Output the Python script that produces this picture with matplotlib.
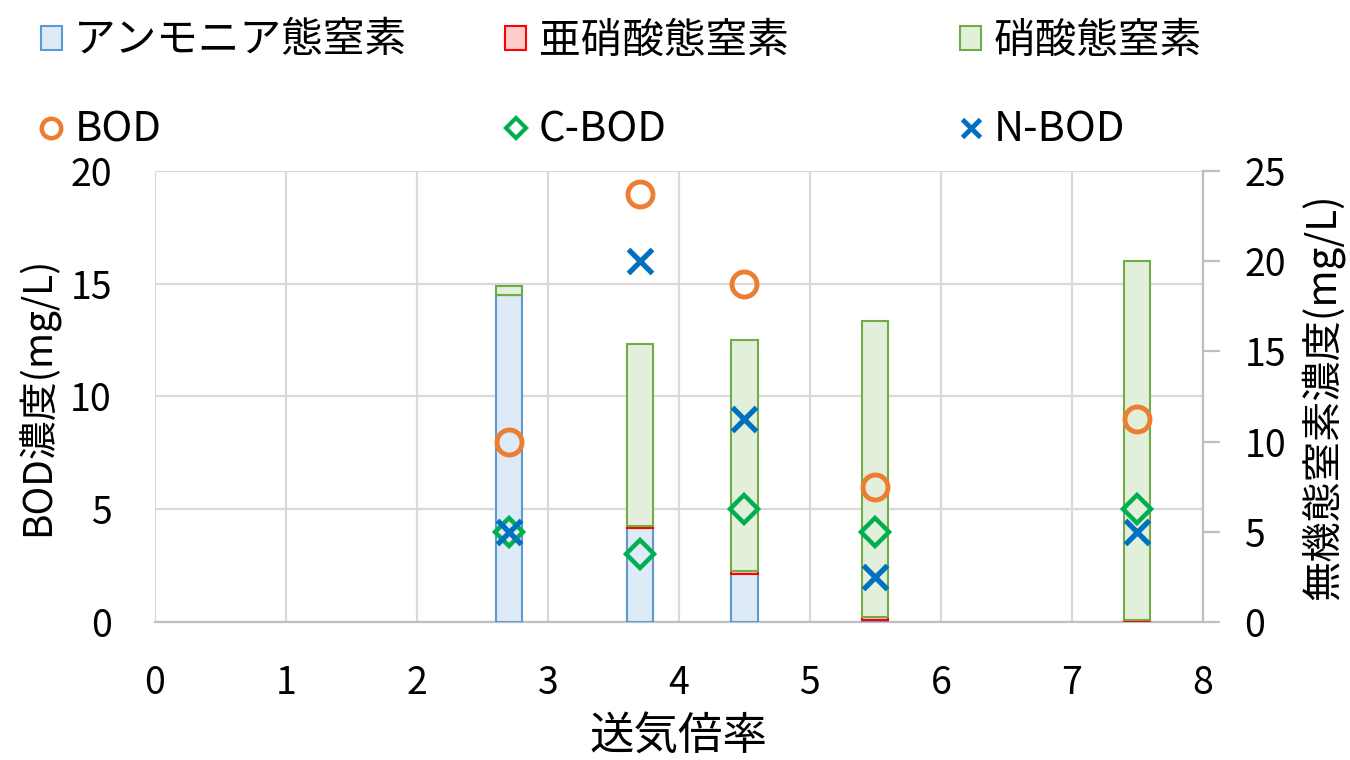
import matplotlib.pyplot as plt
from matplotlib.patches import Patch
from matplotlib.lines import Line2D
import numpy as np

plt.rcParams['font.family'] = ['Noto Sans CJK JP', 'DejaVu Sans']

# 送気倍率ごとの測定値
aeration = [2.7, 3.7, 4.5, 5.5, 7.5]
ammonia = [18.1, 5.2, 2.65, 0.1, 0.0]     # アンモニア態窒素 (mg/L)
nitrite = [0.0, 0.1, 0.15, 0.2, 0.1]      # 亜硝酸態窒素 (mg/L)
nitrate = [0.55, 10.1, 12.85, 16.4, 19.9]  # 硝酸態窒素 (mg/L)

bod = [8, 19, 15, 6, 9]
c_bod = [4, 3, 5, 4, 5]
n_bod = [4, 16, 9, 2, 4]

grey = '#D9D9D9'
fs = 27

fig = plt.figure(figsize=(13.5, 7.6), dpi=100)
ax = fig.add_axes([0.1148, 0.1816, 0.7762, 0.5934])

# 左軸: グリッドと目盛りだけ
ax.set_xlim(0, 8)
ax.set_ylim(0, 20)
ax.set_xticks(range(0, 9))
ax.set_yticks(range(0, 21, 5))
ax.grid(True, color=grey, linewidth=1.6)
for s in ['top', 'right', 'left']:
    ax.spines[s].set_visible(False)
ax.spines['bottom'].set_color('#BFBFBF')
ax.spines['bottom'].set_linewidth(1.6)
ax.tick_params(axis='both', length=0, labelsize=fs)
ax.tick_params(axis='y', pad=31)
ax.tick_params(axis='x', pad=30)
ax.set_xlabel('送気倍率', fontsize=32, labelpad=8)
ax.set_ylabel('BOD濃度(mg/L)', fontsize=28, labelpad=8)

# 右軸: 無機態窒素の積み上げ棒
axb = ax.twinx()
axb.set_ylim(0, 25)
axb.set_yticks(range(0, 26, 5))
w = 0.2
x = np.array(aeration)
b1 = np.array(ammonia)
b2 = b1 + np.array(nitrite)
axb.bar(x, ammonia, width=w, color='#DEEBF7', edgecolor='#5B9BD5', linewidth=1.5)
axb.bar(x, nitrite, width=w, bottom=b1, color='#FFCCCC', edgecolor='#FF0000', linewidth=1.5)
axb.bar(x, nitrate, width=w, bottom=b2, color='#E2EFDA', edgecolor='#70AD47', linewidth=1.5)
for s in ['top', 'left', 'bottom']:
    axb.spines[s].set_visible(False)
axb.spines['right'].set_color('#BFBFBF')
axb.spines['right'].set_linewidth(1.6)
axb.tick_params(axis='y', length=12, width=1.6, color='#BFBFBF', labelsize=fs, pad=18)
axb.set_ylabel('無機態窒素濃度(mg/L)', fontsize=29, labelpad=10)

# BOD系列はもう一段上の軸に左軸と同じ範囲で描く
axp = ax.twinx()
axp.set_ylim(0, 20)
axp.axis('off')
axp.plot(aeration, bod, linestyle='none', marker='o', markersize=18,
         markerfacecolor='none', markeredgecolor='#ED7D31', markeredgewidth=3.5)
axp.plot(aeration, c_bod, linestyle='none', marker='D', markersize=14,
         markerfacecolor='none', markeredgecolor='#00B050', markeredgewidth=3.2)
axp.plot(aeration, n_bod, linestyle='none', marker='x', markersize=17,
         markeredgecolor='#0070C0', markeredgewidth=3.8)

# 凡例: 3列 x 2行
col_items = [
    (Patch(facecolor='#DEEBF7', edgecolor='#5B9BD5', linewidth=1.5), 'アンモニア態窒素',
     Line2D([], [], linestyle='none', marker='o', markersize=14, markerfacecolor='none',
            markeredgecolor='#ED7D31', markeredgewidth=3.2), 'BOD'),
    (Patch(facecolor='#FFCCCC', edgecolor='#FF0000', linewidth=1.5), '亜硝酸態窒素',
     Line2D([], [], linestyle='none', marker='D', markersize=10, markerfacecolor='none',
            markeredgecolor='#00B050', markeredgewidth=3), 'C-BOD'),
    (Patch(facecolor='#E2EFDA', edgecolor='#70AD47', linewidth=1.5), '硝酸態窒素',
     Line2D([], [], linestyle='none', marker='x', markersize=13,
            markeredgecolor='#0070C0', markeredgewidth=3.5), 'N-BOD'),
]
col_x = [0.018, 0.362, 0.699]
for cx, (h1, l1, h2, l2) in zip(col_x, col_items):
    fig.legend([h1, h2], [l1, l2], loc='upper left', bbox_to_anchor=(cx, 0.995),
               frameon=False, fontsize=30, handlelength=0.5, handleheight=0.5,
               handletextpad=0.3, labelspacing=1.15, borderaxespad=0)

fig.savefig('out.png', dpi=100)
